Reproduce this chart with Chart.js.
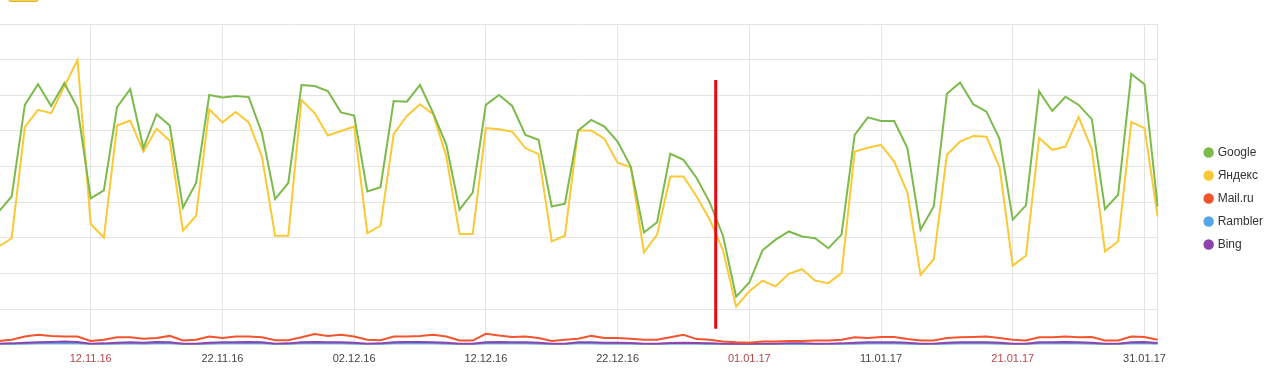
<!DOCTYPE html>
<html>
<head>
<meta charset="utf-8">
<script src="https://cdn.jsdelivr.net/npm/chart.js@4/dist/chart.umd.min.js"></script>
<style>
  html, body { margin: 0; padding: 0; background: #fff; overflow: hidden; }
  #wrap { position: relative; width: 1280px; height: 391px; overflow: hidden; }
  #chart { position: absolute; left: -9px; top: 0; }
  .tab { position: absolute; left: 8px; top: -5px; width: 29px; height: 5px;
         background: #f8d14e; border: 1px solid #e2b43a; border-radius: 3px; }
</style>
</head>
<body>
<div id="wrap">
  <div class="tab"></div>
  <canvas id="chart" width="1289" height="391"></canvas>
</div>
<script>
// days from 05.11.16 to 01.02.17
const startDay = new Date(2016, 10, 5);
const dayCount = 89;
const days = [];
for (let i = 0; i < dayCount; i++) {
    const d = new Date(startDay.getFullYear(), startDay.getMonth(), startDay.getDate() + i);
    const dd = String(d.getDate()).padStart(2, '0');
    const mm = String(d.getMonth() + 1).padStart(2, '0');
    const yy = String(d.getFullYear()).slice(2);
    days.push(`${dd}.${mm}.${yy}`);
}

// labelled ticks, weekend ones are red
const tickDays = ['12.11.16', '22.11.16', '02.12.16', '12.12.16', '22.12.16', '01.01.17', '11.01.17', '21.01.17', '31.01.17'];
const redTicks = ['12.11.16', '01.01.17', '21.01.17'];

const google = [373,416,673,731,670,734,664,411,433,667,
    717,552,647,615,385,454,701,694,698,695,
    594,409,454,729,726,712,652,643,430,442,
    684,682,729,650,561,379,427,673,701,670,
    589,575,388,396,601,631,612,570,500,315,
    344,536,519,468,399,306,135,175,265,295,
    318,304,299,271,309,589,638,628,628,552,
    323,388,704,736,675,654,577,351,391,711,
    656,696,673,633,381,421,760,731,388];

const yandex = [275,299,611,659,650,725,799,339,301,615,
    629,542,606,573,320,362,661,624,653,624,
    528,306,306,687,650,587,600,612,313,334,
    591,642,675,647,528,311,311,608,605,598,
    552,535,290,306,601,601,578,511,498,259,
    309,472,472,416,351,266,107,150,180,164,
    199,212,180,173,201,542,553,561,514,427,
    196,240,533,570,586,584,498,222,250,580,
    547,556,639,549,262,290,625,608,360];

const mailru = [11,14,23,28,25,23,23,11,14,21,
    21,17,19,25,12,14,23,19,23,23,
    21,13,13,21,30,25,28,23,14,13,
    23,23,25,28,23,12,12,31,26,22,
    23,19,11,14,17,25,19,19,17,14,
    14,21,28,16,14,9,7,6,9,9,
    11,11,12,12,14,21,19,22,22,16,
    12,12,19,21,22,23,19,14,12,21,
    21,23,21,22,12,12,23,22,14];

const rambler = [2,2,3,4,4,5,4,2,2,3,
    4,3,4,4,2,2,3,4,4,5,
    4,2,2,4,5,4,4,3,2,2,
    4,5,4,4,3,2,2,4,5,4,
    4,3,2,2,4,4,3,3,3,2,
    2,3,3,3,2,2,1,1,2,2,
    2,2,2,2,2,3,4,4,4,3,
    2,2,3,4,4,4,3,2,2,4,
    4,5,4,3,2,2,4,5,3];

const bing = [3,4,6,7,8,9,8,3,4,6,
    7,6,8,7,3,3,6,7,7,8,
    7,3,4,7,8,7,7,6,3,4,
    7,8,8,7,6,3,3,7,8,7,
    7,6,3,3,7,7,6,6,5,3,
    3,5,6,5,4,3,2,2,3,3,
    4,4,3,3,4,6,7,7,7,6,
    3,3,6,7,7,7,6,3,3,7,
    7,8,7,6,3,3,7,8,5];

// red marker between 29.12 and 30.12
const markerIndex = 54.45;
const markerRange = [45, 743];

const FONT = 'Arial, "Liberation Sans", sans-serif';

const markerPlugin = {
    id: 'marker',
    afterDatasetsDraw(chart) {
        const x = chart.scales.x.getPixelForValue(markerIndex);
        const y = chart.scales.y;
        const ctx = chart.ctx;
        ctx.save();
        ctx.strokeStyle = '#e8080e';
        ctx.lineWidth = 3;
        ctx.beginPath();
        ctx.moveTo(x, y.getPixelForValue(markerRange[1]));
        ctx.lineTo(x, y.getPixelForValue(markerRange[0]));
        ctx.stroke();
        ctx.restore();
    }
};

const line = (label, data, color, order) => ({
    label: label,
    data: data,
    borderColor: color,
    backgroundColor: color,
    borderWidth: 2,
    pointRadius: 0,
    tension: 0,
    fill: false,
    order: order
});

new Chart(document.getElementById('chart'), {
    type: 'line',
    data: {
        labels: days,
        datasets: [
            line('Google', google, '#7dba4c', 0),
            line('Яндекс', yandex, '#fac935', 0),
            line('Mail.ru', mailru, '#f2542d', 0),
            line('Rambler', rambler, '#55a6e6', 1),   // drawn under Bing
            line('Bing', bing, '#8e44ad', 0)
        ]
    },
    options: {
        responsive: false,
        animation: false,
        devicePixelRatio: 1,
        layout: { autoPadding: false, padding: { left: 0, top: 24, right: 7, bottom: 18 } },
        plugins: {
            tooltip: { enabled: false },
            legend: {
                position: 'right',
                labels: {
                    usePointStyle: true,
                    pointStyle: 'circle',
                    boxWidth: 6,
                    boxHeight: 6,
                    padding: 11,
                    color: '#333',
                    font: { family: FONT, size: 12 },
                    sort: (a, b) => a.datasetIndex - b.datasetIndex
                }
            }
        },
        scales: {
            x: {
                offset: false,
                border: { display: false },
                grid: {
                    drawTicks: false,
                    color: ctx => (ctx.tick && tickDays.includes(ctx.tick.label)) ? '#e4e4e4' : 'rgba(0,0,0,0)'
                },
                ticks: {
                    autoSkip: false,
                    maxRotation: 0,
                    padding: 7.5,
                    font: { family: FONT, size: 11 },
                    color: ctx => redTicks.includes(ctx.tick.label) ? '#b5474a' : '#444',
                    callback: (v, i) => tickDays.includes(days[i]) ? days[i] : ''
                }
            },
            y: {
                position: 'right',
                min: 0,
                max: 900,
                border: { display: true, color: '#e4e4e4' },
                grid: { color: '#e4e4e4', drawTicks: false },
                ticks: { display: false, stepSize: 100 },
                afterFit: s => { s.width = 37; }
            }
        }
    },
    plugins: [markerPlugin]
});
</script>
</body>
</html>
